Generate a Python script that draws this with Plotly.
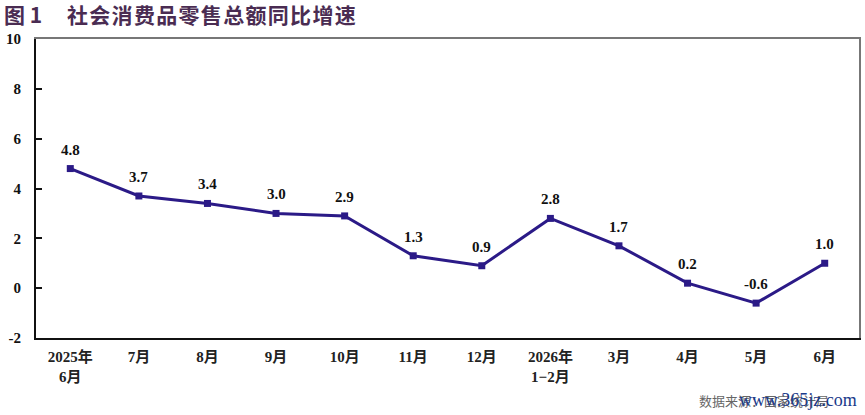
import plotly.graph_objects as go

categories = ["2025年<br>6月", "7月", "8月", "9月", "10月", "11月", "12月",
              "2026年<br>1−2月", "3月", "4月", "5月", "6月"]
values = [4.8, 3.7, 3.4, 3.0, 2.9, 1.3, 0.9, 2.8, 1.7, 0.2, -0.6, 1.0]
value_labels = ["4.8", "3.7", "3.4", "3.0", "2.9", "1.3", "0.9", "2.8", "1.7", "0.2", "-0.6", "1.0"]
y_ticks = [-2, 0, 2, 4, 6, 8, 10]

serif = "Liberation Serif, Noto Sans CJK SC, serif"
line_color = "#2b1a87"
xs = list(range(len(categories)))

fig = go.Figure()
fig.add_trace(go.Scatter(
    x=xs, y=values,
    mode="lines+markers",
    line=dict(color=line_color, width=3),
    marker=dict(symbol="square", size=7, color=line_color),
    cliponaxis=False, showlegend=False,
))
for xi, v, lab in zip(xs, values, value_labels):
    fig.add_annotation(x=xi, y=v, text="<b>%s</b>" % lab, showarrow=False,
                       yanchor="middle", yshift=19,
                       font=dict(family=serif, size=15, color="#111111"))

fig.update_layout(
    width=865, height=415,
    margin=dict(l=36, r=6, t=39, b=77),
    paper_bgcolor="white", plot_bgcolor="white",
    xaxis=dict(
        range=[-0.5, len(categories) - 0.5],
        tickmode="array", tickvals=xs,
        ticktext=["<b>" + c.replace("<br>", "</b><br><b>") + "</b>" for c in categories],
        tickfont=dict(family=serif, size=15, color="#222222"),
        showgrid=False, zeroline=False,
        showline=True, linecolor="#111111", linewidth=2,
        mirror=False, ticks="", ticklabelstandoff=4,
    ),
    xaxis2=dict(overlaying="x", side="top", showline=True, linecolor="#777777",
                linewidth=2, showticklabels=False, showgrid=False, zeroline=False,
                range=[-0.5, len(categories) - 0.5]),
    yaxis=dict(
        range=[-2, 10], tickmode="array", tickvals=y_ticks,
        ticktext=["<b>%d</b>" % v for v in y_ticks],
        tickfont=dict(family=serif, size=15, color="#111111"),
        showgrid=False, zeroline=False,
        showline=True, linecolor="#111111", linewidth=2,
        ticks="inside", ticklen=6, tickcolor="#111111", tickwidth=1.5,
        ticklabelstandoff=10,
    ),
    yaxis2=dict(overlaying="y", side="right", showline=True, linecolor="#777777",
                linewidth=2, showticklabels=False, showgrid=False, zeroline=False,
                range=[-2, 10]),
)
fig.add_trace(go.Scatter(x=[0], y=[0], xaxis="x2", yaxis="y2", mode="markers",
                         marker=dict(opacity=0), showlegend=False, hoverinfo="skip"))

title_main = "社会消费品零售总额同比增速"
fig.add_annotation(
    text="<b>图 1</b>",
    xref="paper", yref="paper", x=0, y=1, xanchor="left", yanchor="middle",
    xshift=-34, yshift=25, showarrow=False,
    font=dict(family="Noto Sans CJK SC", size=21, color="#4a2c52"),
)
fig.add_annotation(
    text="<b>" + "\u200a".join(title_main) + "</b>",
    xref="paper", yref="paper", x=0, y=1, xanchor="left", yanchor="middle",
    xshift=29, yshift=25, showarrow=False,
    font=dict(family="Noto Sans CJK SC", size=21, color="#4a2c52"),
)
fig.add_annotation(
    text="数据来源：国家统计局",
    xref="paper", yref="paper", x=1, y=0, xanchor="right", yanchor="middle",
    xshift=-28, yshift=-62, showarrow=False,
    font=dict(family="Noto Sans CJK SC", size=13, color="#666666"),
)
fig.add_annotation(
    text="www.365jz.com",
    xref="paper", yref="paper", x=1, y=0, xanchor="right", yanchor="middle",
    yshift=-62, showarrow=False,
    font=dict(family="Liberation Serif", size=18, color="#1a3a8a"),
)

fig.write_html("out.html")
